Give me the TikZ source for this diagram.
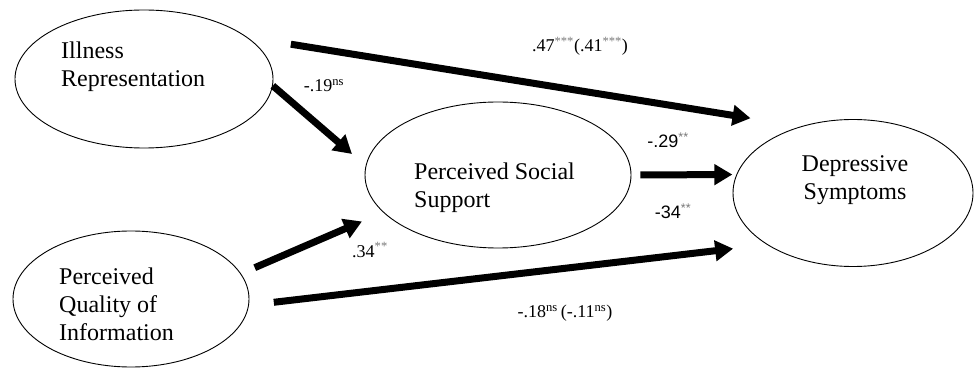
\documentclass[tikz,border=0pt]{standalone}
\usepackage{fontspec}
\setmainfont{Liberation Serif}
\newfontfamily\arialfont{Liberation Sans}
\usetikzlibrary{shapes.geometric,arrows.meta,positioning}
\usepackage{xcolor}
\definecolor{stargray}{RGB}{120,120,120}
\newcommand{\sig}[1]{\textsuperscript{\textcolor{stargray}{#1}}}

\begin{document}
\begin{tikzpicture}[x=1pt,y=-1pt,
  % latent variables
  latent/.style={draw,ellipse,line width=0.9pt,inner sep=0pt},
  % text inside the ellipses
  vtext/.style={inner sep=0pt,align=left,font=\fontsize{24}{28}\selectfont},
  % path coefficients
  coef/.style={inner sep=0pt,font=\fontsize{18}{20}\selectfont},
  % thick arrows
  conn/.style={-{Triangle[length=18pt,width=20pt]},line width=7pt}
]
  \useasboundingbox (0,0) rectangle (974,379);

  % ---- Ellipses ----
  \node[latent,minimum width=258pt,minimum height=138pt] (ir)  at (144,79)  {};
  \node[latent,minimum width=236pt,minimum height=136pt] (pqi) at (131,299) {};
  \node[latent,minimum width=266pt,minimum height=146pt] (pss) at (498,175) {};
  \node[latent,minimum width=240pt,minimum height=147pt] (dep) at (853,193) {};

  % ---- Their labels ----
  \node[vtext,anchor=west] (irtxt)  at (61,67)  {Illness\\Representation};
  \node[vtext,anchor=west] (pqitxt) at (59,304) {Perceived\\Quality of\\Information};
  \node[vtext,anchor=west] (psstxt) at (414,188) {Perceived Social\\Support};
  \node[vtext,align=center] (deptxt) at (855,180) {Depressive\\Symptoms};

  % ---- Paths ----
  \draw[conn,shorten <=44pt,shorten >=51pt] (ir.22)   -- (dep.128);
  \draw[conn,shorten >=18pt]                (ir.-3)   -- (pss.176);
  \draw[conn,shorten <=15pt,shorten >=23pt] (pqi.13)  -- (pss.198);
  \draw[conn,shorten <=25pt,shorten >=34pt] (pqi.-3)  -- (dep.211);
  \draw[conn,shorten <=9pt,shorten >=4pt]   (pss.east) -- (dep.171);

  % ---- Coefficients ----
  \node[coef] (c-ir-dep)  at (580,46)  {.47\sig{***}(.41\sig{***})};
  \node[coef] (c-ir-pss)  at (324,86)  {-.19\textsuperscript{ns}};
  \node[coef,font=\fontsize{18}{20}\arialfont] (c-pss-dep) at (668,140) {-.29\sig{**}};
  \node[coef,font=\fontsize{18}{20}\arialfont] (c-ind)     at (673,211) {-34\sig{**}};
  \node[coef] (c-pqi-pss) at (370,250) {.34\sig{**}};
  \node[coef] (c-pqi-dep) at (565,313) {-.18\textsuperscript{ns}\,(-.11\textsuperscript{ns})};
\end{tikzpicture}
\end{document}
